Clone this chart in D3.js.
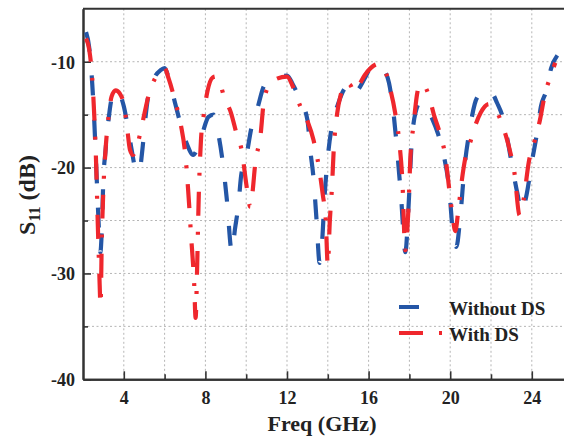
<!DOCTYPE html>
<html>
<head>
<meta charset="utf-8">
<script src="https://cdn.jsdelivr.net/npm/d3@7"></script>
<style>
  body { margin: 0; background: #fff; }
  svg { display: block; }
  text { font-family: "Liberation Serif", "Times New Roman", serif; font-weight: bold; fill: #222; }
</style>
</head>
<body>
<div id="chart"></div>
<script>
// S11 curves (GHz, dB)
var freqWithout = [2.15, 2.3, 2.45, 2.55, 2.65, 2.75, 2.85, 2.92, 3.0, 3.1, 3.25, 3.4, 3.6, 3.8, 4.0, 4.2, 4.4, 4.6, 4.75, 4.9, 5.05, 5.2, 5.5, 5.8, 6.0,
  6.2, 6.5, 6.8, 7.1, 7.4, 7.65, 7.85, 8.15, 8.4, 8.65, 8.85, 9.05, 9.3, 9.45, 9.62, 9.75, 10.0, 10.25, 10.55, 10.9, 11.3, 11.7, 12.0,
  12.3, 12.6, 13.0, 13.15, 13.3, 13.45, 13.6, 13.72, 13.85, 14.0, 14.25, 14.5, 14.8, 15.0, 15.25, 15.5, 15.8, 16.1, 16.5, 16.8, 17.0,
  17.2, 17.45, 17.6, 17.8, 17.95, 18.1, 18.3, 18.55, 18.8, 19.1, 19.4, 19.7, 19.95, 20.15, 20.3, 20.5, 20.7, 20.95, 21.2, 21.45, 21.75,
  22.0, 22.3, 22.6, 22.85, 23.05, 23.3, 23.5, 23.75, 24.0, 24.25, 24.45, 24.7, 24.95, 25.25];
var s11Without = [-7.2, -8.6, -12, -15.5, -20, -24.5, -28, -26, -21, -18.5, -15.5, -13.5, -12.7, -13.1, -14.2, -16.2, -18.5, -20.3, -20.5, -18.5, -15.5, -13.2, -11.5, -10.8, -10.6,
  -11.5, -13.8, -16, -17.8, -18.8, -18, -16.8, -15.2, -15, -17, -19.5, -23, -28, -25.8, -23.5, -20.8, -19, -16.3, -14.4, -12.2, -11.7, -11.4, -11.3,
  -12.2, -13.4, -15.5, -18.5, -21, -25, -29, -27, -22.5, -19, -15.6, -14, -12.6, -12.2, -13, -12.6, -11.6, -10.6, -10.3, -10.9, -12,
  -14.5, -19.5, -23, -28, -24, -18, -14.8, -13.8, -14.2, -15.3, -16.8, -19, -22, -26.5, -27.5, -24.5, -20, -16.5, -14, -13, -12.6,
  -12.8, -13.9, -15.4, -17.8, -20, -22.5, -24.2, -22.5, -19.5, -16.8, -14.2, -12.8, -10.6, -9.4];

var freqWith = [2.15, 2.3, 2.45, 2.55, 2.65, 2.72, 2.8, 2.86, 2.92, 3.0, 3.1, 3.25, 3.4, 3.6, 3.8, 4.0, 4.15, 4.3, 4.45, 4.6, 4.8, 5.0, 5.2, 5.5, 5.8, 6.0,
  6.2, 6.5, 6.8, 7.0, 7.15, 7.3, 7.45, 7.52, 7.6, 7.67, 7.78, 7.92, 8.1, 8.35, 8.5, 8.7, 8.95, 9.25, 9.5, 9.8, 10.0, 10.2, 10.3, 10.45, 10.7,
  10.85, 11.1, 11.5, 12.0, 12.3, 12.65, 13.0, 13.3, 13.55, 13.75, 13.9, 14.0, 14.1, 14.2, 14.3, 14.45, 14.65, 14.9, 15.1, 15.3, 15.5, 15.8,
  16.1, 16.5, 16.8, 17.05, 17.3, 17.5, 17.65, 17.8, 17.95, 18.05, 18.2, 18.4, 18.55, 18.75, 18.95, 19.2, 19.5, 19.75, 19.95, 20.1, 20.25,
  20.4, 20.55, 20.75, 21.0, 21.2, 21.5, 21.9, 22.3, 22.6, 22.9, 23.15, 23.4, 23.6, 23.85, 24.15, 24.4, 24.65, 24.9, 25.15];
var s11With = [-7.8, -8.8, -11.5, -15, -20, -25, -30, -33, -27, -22, -18.5, -15.2, -13.3, -12.7, -13, -14, -16, -18.3, -18.8, -18.3, -16.8, -15, -13.3, -11.7, -10.9, -10.6,
  -11.6, -13.6, -16, -18.5, -22, -26.5, -31, -34.2, -29, -23, -17.5, -15, -12.8, -11.5, -11.4, -12, -13.5, -14.8, -16.6, -18.6, -21.5, -23.7, -22.5, -19.5, -17,
  -14, -12.3, -11.6, -11.4, -12.4, -14.2, -15.6, -17.4, -19.8, -22.5, -25, -29.2, -25, -22, -18, -15, -13, -12, -12.2, -12.8, -12.3, -11.3,
  -10.6, -10.2, -10.8, -12.5, -14.8, -17.5, -21, -27.8, -24, -19, -16, -12.8, -12.1, -12.3, -13.2, -15, -16.8, -18.8, -22, -24.3, -26,
  -24, -21.5, -19, -17.5, -16.2, -14.8, -14, -14.8, -16.2, -18.2, -20.5, -24.5, -23, -19.5, -17.4, -15.5, -13, -11.5, -10.1];

var seriesNames = ["Without DS", "With DS"];
var seriesColors = ["#2456a6", "#ef272d"];
var xTickValues = [4, 8, 12, 16, 20, 24];
var yTickValues = [-40, -30, -20, -10];

var svgWidth = 564;
var svgHeight = 438;

var svg = d3.select("#chart")
  .append("svg")
  .attr("width", svgWidth)
  .attr("height", svgHeight);

var plotLeft = 83, plotBottom = 379.3, plotTop = 8.8;
var xScale = d3.scaleLinear().domain([2, 26]).range([plotLeft, plotLeft + 24 * 20.4]);
var yScale = d3.scaleLinear().domain([-40, -5]).range([plotBottom, plotTop]);

// dotted grid
var grid = svg.append("g").attr("stroke", "#b5b5b5").attr("stroke-width", 1).attr("stroke-dasharray", "2,2.5");
grid.selectAll(".gx").data(d3.range(4, 26, 2)).enter().append("line")
  .attr("x1", d => xScale(d)).attr("x2", d => xScale(d))
  .attr("y1", plotTop).attr("y2", plotBottom);
grid.selectAll(".gy").data(d3.range(-35, -5, 5)).enter().append("line")
  .attr("x1", plotLeft).attr("x2", svgWidth)
  .attr("y1", d => yScale(d)).attr("y2", d => yScale(d));

// axes (ticks point inward)
svg.append("g")
  .attr("transform", `translate(0, ${plotBottom})`)
  .call(d3.axisBottom(xScale).tickValues(d3.range(6, 26, 4)).tickSizeInner(-5).tickSizeOuter(0).tickFormat(""));
var xAxis = svg.append("g")
  .attr("transform", `translate(0, ${plotBottom})`)
  .call(d3.axisBottom(xScale).tickValues(xTickValues).tickSizeInner(-8).tickSizeOuter(0));
xAxis.selectAll("text").attr("y", 25).attr("dy", null).style("font-size", "18px");

svg.append("g")
  .attr("transform", `translate(${plotLeft}, 0)`)
  .call(d3.axisLeft(yScale).tickValues([-35, -25, -15]).tickSizeInner(-5).tickSizeOuter(0).tickFormat(""));
var yAxis = svg.append("g")
  .attr("transform", `translate(${plotLeft}, 0)`)
  .call(d3.axisLeft(yScale).tickValues(yTickValues).tickSizeInner(-8).tickSizeOuter(0).tickFormat(d => String(d)));
yAxis.selectAll("text").attr("x", -8).attr("dy", "0.35em").style("font-size", "18px");

svg.selectAll(".domain").attr("stroke", "#333").attr("stroke-width", 2);
svg.selectAll(".tick line").attr("stroke", "#333").attr("stroke-width", 1.6);
svg.selectAll(".tick text").attr("fill", "#222");

// top frame line
svg.append("line")
  .attr("x1", plotLeft).attr("x2", svgWidth)
  .attr("y1", plotTop).attr("y2", plotTop)
  .attr("stroke", "#333").attr("stroke-width", 2);

// curves
var line = d3.line()
  .x(d => xScale(d[0]))
  .y(d => yScale(d[1]))
  .curve(d3.curveMonotoneX);

var dataWithout = freqWithout.map((f, i) => [f, s11Without[i]]);
var dataWith = freqWith.map((f, i) => [f, s11With[i]]);
var dashes = ["20,24", "24,16,3,16"];

svg.append("path")
  .datum(dataWithout)
  .attr("d", line)
  .attr("fill", "none")
  .attr("stroke", seriesColors[0])
  .attr("stroke-width", 4.2)
  .attr("stroke-dasharray", dashes[0]);

svg.append("path")
  .datum(dataWith)
  .attr("d", line)
  .attr("fill", "none")
  .attr("stroke", seriesColors[1])
  .attr("stroke-width", 4.2)
  .attr("stroke-dasharray", dashes[1]);

// legend
var legend = svg.append("g");
seriesNames.forEach(function(name, i) {
  var ly = 307 + i * 26;
  legend.append("line")
    .attr("x1", 399).attr("x2", 443)
    .attr("y1", ly).attr("y2", ly)
    .attr("stroke", seriesColors[i])
    .attr("stroke-width", 4)
    .attr("stroke-dasharray", dashes[i]);
  legend.append("text")
    .attr("x", 449)
    .attr("y", ly + 8)
    .style("font-size", "19px")
    .text(name);
});

// axis titles
svg.append("text")
  .attr("x", 322)
  .attr("y", 431)
  .attr("text-anchor", "middle")
  .style("font-size", "22px")
  .text("Freq (GHz)");

var yLabel = svg.append("text")
  .attr("transform", "rotate(-90)")
  .attr("x", -195)
  .attr("y", 35)
  .attr("text-anchor", "middle")
  .style("font-size", "24px");
yLabel.append("tspan").text("S");
yLabel.append("tspan").attr("dy", 5).style("font-size", "16px").text("11");
yLabel.append("tspan").attr("dy", -5).text(" (dB)");
</script>
</body>
</html>
